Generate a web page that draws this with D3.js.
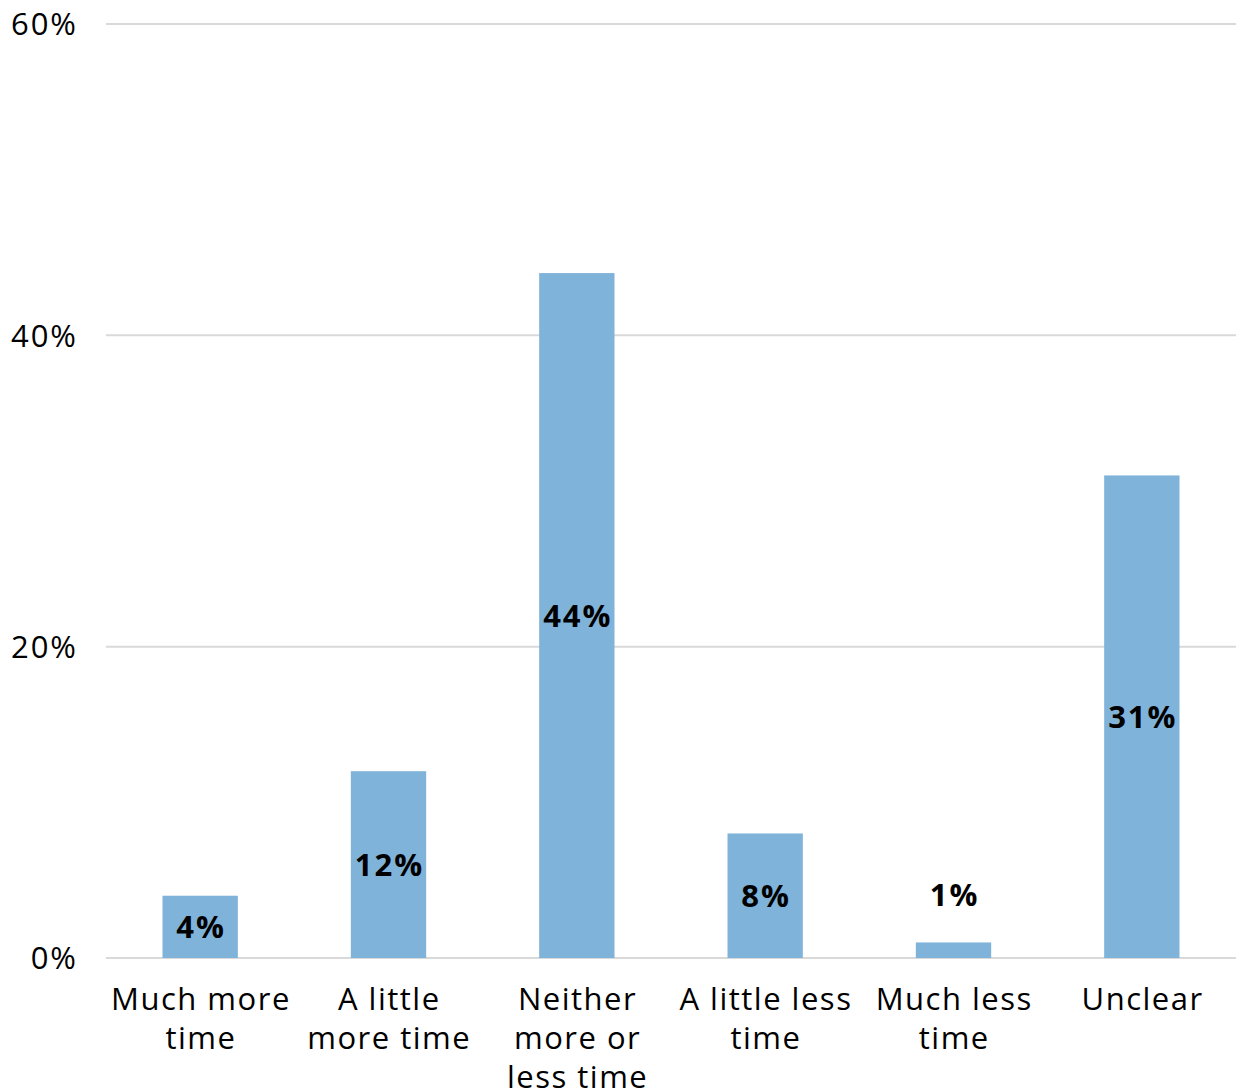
<!DOCTYPE html>
<html><head><meta charset="utf-8">
<script src="https://cdn.jsdelivr.net/npm/d3@7"></script>
<style>
html,body{margin:0;padding:0;background:#fff;}
svg{display:block;font-family:"Open Sans",sans-serif;}
</style></head>
<body><svg id="chart" width="1242" height="1090"></svg>
<script>
const categories = ["Much more\ntime","A little\nmore time","Neither\nmore or\nless time","A little less\ntime","Much less\ntime","Unclear"];
const values = [4, 12, 44, 8, 1, 31];
const yTicks = [0, 20, 40, 60];

const svg = d3.select("#chart");
const x = d3.scaleBand().domain(categories).range([106, 1236]).paddingInner(0.6).paddingOuter(0.3);
const y = d3.scaleLinear().domain([0, 60]).range([958, 24]);

// gridlines
svg.append("g").selectAll("line").data(yTicks).join("line")
  .attr("x1", 106).attr("x2", 1236)
  .attr("y1", d => y(d)).attr("y2", d => y(d))
  .attr("stroke", "#d9d9d9").attr("stroke-width", 2);

// y axis labels
const yAxis = svg.append("g").attr("transform", "translate(78,0)")
  .call(d3.axisLeft(y).tickValues(yTicks).tickFormat(d => d + "%").tickSize(0).tickPadding(0));
yAxis.select(".domain").remove();
yAxis.selectAll("text").attr("font-family", "Open Sans").attr("font-size", 31)
  .attr("letter-spacing", 2).attr("fill", "#000").attr("dy", "0.35em");

// bars
svg.append("g").selectAll("rect").data(values).join("rect")
  .attr("x", (d, i) => x(categories[i]))
  .attr("width", x.bandwidth())
  .attr("y", d => y(d))
  .attr("height", d => y(0) - y(d))
  .attr("fill", "#7fb3da");

// value labels
svg.append("g").selectAll("text").data(values).join("text")
  .attr("x", (d, i) => x(categories[i]) + x.bandwidth() / 2 + 1)
  .attr("y", d => (y(0) - y(d)) < 40 ? y(d) - 48 : (y(d) + y(0)) / 2)
  .attr("dy", "0.36em")
  .attr("text-anchor", "middle")
  .attr("font-size", 31).attr("font-weight", "bold").attr("letter-spacing", 2).attr("fill", "#000")
  .text(d => d + "%");

// category labels
const xAxis = svg.append("g").attr("transform", "translate(0,958)")
  .call(d3.axisBottom(x).tickSize(0).tickPadding(0).tickFormat(""));
xAxis.select(".domain").remove();
xAxis.selectAll(".tick").each(function(d) {
  const t = d3.select(this).append("text")
    .attr("text-anchor", "middle").attr("font-family", "Open Sans").attr("font-size", 31)
    .attr("letter-spacing", 1.5).attr("fill", "#000");
  d.split("\n").forEach((line, j) => {
    t.append("tspan").attr("x", 0.75).attr("y", 52 + j * 39).text(line);
  });
});
</script></body></html>
